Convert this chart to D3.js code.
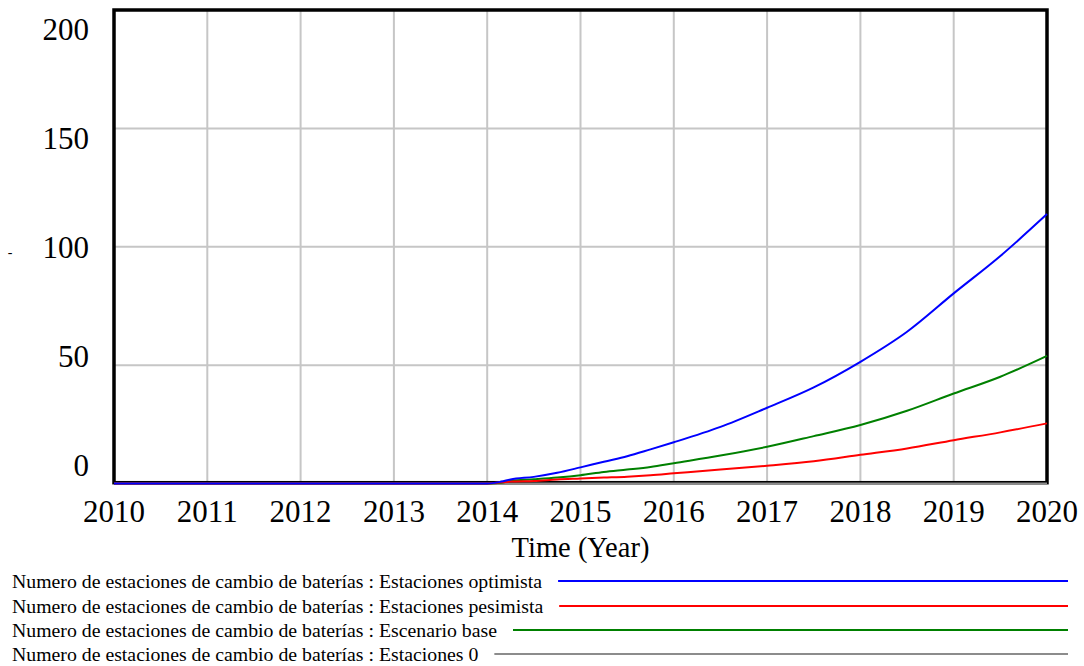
<!DOCTYPE html>
<html>
<head>
<meta charset="utf-8">
<script src="https://cdn.jsdelivr.net/npm/d3@7"></script>
<style>
  html, body { margin: 0; padding: 0; background: #fff; }
  svg { display: block; font-family: "Liberation Serif", "Times New Roman", serif; }
</style>
</head>
<body>
<svg id="chart" width="1084" height="666"></svg>
<script>
// ---- data ----
const years = [2010, 2014, 2014.15, 2014.25, 2014.5, 2014.75, 2015, 2015.25, 2015.5, 2015.75, 2016, 2016.5, 2017, 2017.5, 2018, 2018.5, 2019, 2019.5, 2020];
const optimista = [0, 0, 0.8, 1.7, 2.8, 4.5, 6.8, 9.2, 11.5, 14.4, 17.4, 23.9, 32.0, 40.6, 51.4, 64.1, 80.3, 96.1, 113.8];
const pesimista = [0, 0, 0.5, 0.8, 1.1, 1.7, 2.1, 2.5, 2.9, 3.5, 4.3, 5.9, 7.5, 9.4, 12.1, 14.8, 18.3, 21.6, 25.4];
const base      = [0, 0, 0.3, 1.2, 1.8, 2.5, 3.5, 4.9, 5.9, 7.0, 8.6, 11.8, 15.5, 20.0, 24.7, 30.7, 38.0, 45.1, 53.9];
const cero      = [0, 0, 0, 0, 0, 0, 0, 0, 0, 0, 0, 0, 0, 0, 0, 0, 0, 0, 0];
const xTicks = [2010, 2011, 2012, 2013, 2014, 2015, 2016, 2017, 2018, 2019, 2020];
const yTicks = [0, 50, 100, 150, 200];
const seriesNames = [
  "Numero de estaciones de cambio de baterías : Estaciones optimista",
  "Numero de estaciones de cambio de baterías : Estaciones pesimista",
  "Numero de estaciones de cambio de baterías : Escenario base",
  "Numero de estaciones de cambio de baterías : Estaciones 0"
];
const seriesColors = ["#0000ff", "#ff0000", "#008000", "#8c8c8c"];
const xTitle = "Time (Year)";
const yTitle = "-";

// ---- build ----
const seriesValues = [optimista, pesimista, base, cero];
const series = seriesNames.map((n, i) => ({
  name: n, color: seriesColors[i],
  points: years.map((t, j) => ({ t, v: seriesValues[i][j] }))
}));

const svg = d3.select("#chart");
const x = d3.scaleLinear().domain([2010, 2020]).range([114, 1047]);
const y = d3.scaleLinear().domain([0, 200]).range([483.5, 10]);
const yLab = d3.scaleLinear().domain([0, 200]).range([475.5, 39.5]);

// grid
const grid = svg.append("g").attr("stroke", "#c6c6c6").attr("stroke-width", 2);
grid.selectAll("line.v").data(xTicks.slice(1, -1)).join("line")
  .attr("x1", d => x(d)).attr("x2", d => x(d))
  .attr("y1", y(200)).attr("y2", y(0));
grid.selectAll("line.h").data(yTicks.slice(1, -1)).join("line")
  .attr("x1", x(2010)).attr("x2", x(2020))
  .attr("y1", d => y(d)).attr("y2", d => y(d));

// frame
svg.append("rect")
  .attr("x", x(2010)).attr("y", y(200))
  .attr("width", x(2020) - x(2010)).attr("height", y(0) - 0.8 - y(200))
  .attr("fill", "none").attr("stroke", "#000").attr("stroke-width", 3.5);

// lines (drawn gray, green, red, blue so blue is on top)
const line = d3.line().curve(d3.curveMonotoneX).x(d => x(d.t)).y(d => y(d.v));
const drawOrder = [3, 2, 1, 0];
svg.append("g").selectAll("path").data(drawOrder.map(i => series[i])).join("path")
  .attr("d", d => line(d.points))
  .attr("fill", "none")
  .attr("stroke", d => d.color)
  .attr("stroke-width", 2);

// y tick labels
svg.append("g").selectAll("text").data(yTicks).join("text")
  .attr("x", 89).attr("y", d => yLab(d))
  .attr("text-anchor", "end")
  .attr("font-size", 31)
  .attr("fill", "#000")
  .text(d => d);

// x tick labels
svg.append("g").selectAll("text").data(xTicks).join("text")
  .attr("x", d => x(d)).attr("y", 522)
  .attr("text-anchor", "middle")
  .attr("font-size", 31)
  .attr("fill", "#000")
  .text(d => d);

// axis titles
svg.append("text")
  .attr("x", (x(2010) + x(2020)) / 2).attr("y", 557)
  .attr("text-anchor", "middle").attr("font-size", 28.5)
  .text(xTitle);
svg.append("text")
  .attr("x", 10).attr("y", 257)
  .attr("text-anchor", "middle").attr("font-size", 14)
  .text(yTitle);

// legend
const legY = [581, 606, 630, 654];
const leg = svg.append("g");
series.forEach((s, i) => {
  const t = leg.append("text")
    .attr("x", 12).attr("y", legY[i] + 6.5)
    .attr("font-size", 19.8)
    .attr("fill", "#000")
    .text(s.name);
  const w = t.node().getComputedTextLength();
  leg.append("line")
    .attr("x1", 12 + w + 16).attr("x2", 1068)
    .attr("y1", legY[i]).attr("y2", legY[i])
    .attr("stroke", s.color).attr("stroke-width", 2);
});
</script>
</body>
</html>
